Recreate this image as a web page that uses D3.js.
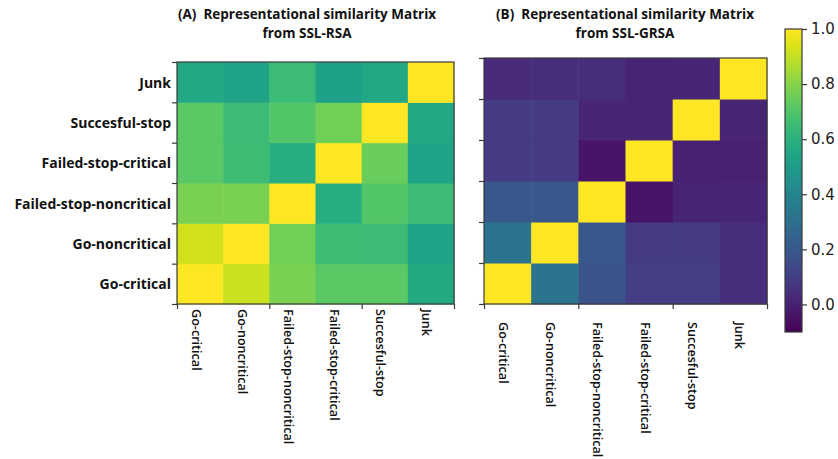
<!DOCTYPE html>
<html>
<head>
<meta charset="utf-8">
<script src="https://cdn.jsdelivr.net/npm/d3@7"></script>
<style>
  html, body { margin: 0; padding: 0; background: #fff; }
  svg { display: block; }
</style>
</head>
<body>
<svg id="chart" width="838" height="459"></svg>
<script>
// Condition labels (same order on both axes; first category sits at the bottom-left)
const categories = ["Go-critical", "Go-noncritical", "Failed-stop-noncritical",
                    "Failed-stop-critical", "Succesful-stop", "Junk"];

// Similarity matrix from SSL-RSA (row = category, column = category)
const rsaGoCritical        = [1.00, 0.91, 0.78, 0.72, 0.72, 0.57];
const rsaGoNoncritical     = [0.92, 1.00, 0.76, 0.66, 0.65, 0.54];
const rsaFailedNoncritical = [0.78, 0.78, 1.00, 0.58, 0.70, 0.65];
const rsaFailedCritical    = [0.72, 0.66, 0.58, 1.00, 0.75, 0.54];
const rsaSuccessfulStop    = [0.72, 0.65, 0.70, 0.76, 1.00, 0.56];
const rsaJunk              = [0.56, 0.54, 0.65, 0.53, 0.56, 1.00];

// Similarity matrix from SSL-GRSA
const grsaGoCritical        = [1.00, 0.32, 0.18, 0.10, 0.10, 0.04];
const grsaGoNoncritical     = [0.32, 1.00, 0.20, 0.09, 0.09, 0.04];
const grsaFailedNoncritical = [0.20, 0.20, 1.00, -0.04, 0.01, 0.02];
const grsaFailedCritical    = [0.09, 0.09, -0.04, 1.00, 0.00, 0.00];
const grsaSuccessfulStop    = [0.09, 0.09, 0.02, 0.01, 1.00, 0.01];
const grsaJunk              = [0.03, 0.04, 0.04, 0.01, 0.02, 1.00];

// Colour bar range and ticks
const colorDomain = [-0.1, 1.0];
const colorTicks = [0.0, 0.2, 0.4, 0.6, 0.8, 1.0];

const rsaMatrix = [rsaGoCritical, rsaGoNoncritical, rsaFailedNoncritical,
                   rsaFailedCritical, rsaSuccessfulStop, rsaJunk];
const grsaMatrix = [grsaGoCritical, grsaGoNoncritical, grsaFailedNoncritical,
                    grsaFailedCritical, grsaSuccessfulStop, grsaJunk];

const svg = d3.select("#chart");
const color = d3.scaleSequential(d3.interpolateViridis).domain(colorDomain);
const axisColor = "#3a3a3a";
const labelFont = "'Open Sans', sans-serif";

function drawPanel(cfg) {
  const g = svg.append("g");
  const n = categories.length;
  const x = d3.scaleBand().domain(categories).range([cfg.x0, cfg.x1]);
  const y = d3.scaleBand().domain(categories).range([cfg.y1, cfg.y0]);
  // continuous index scales for ticks on cell boundaries
  const xi = d3.scaleLinear().domain([0, n]).range([cfg.x0, cfg.x1]);
  const yi = d3.scaleLinear().domain([0, n]).range([cfg.y1, cfg.y0]);

  const cells = [];
  cfg.matrix.forEach((row, r) => row.forEach((v, c) => {
    cells.push({ row: categories[r], col: categories[c], v });
  }));

  g.selectAll("rect.cell").data(cells).join("rect")
    .attr("class", "cell")
    .attr("x", d => x(d.col))
    .attr("y", d => y(d.row))
    .attr("width", x.bandwidth() + 0.5)
    .attr("height", y.bandwidth() + 0.5)
    .attr("fill", d => color(d.v));

  // frame
  g.append("rect")
    .attr("x", cfg.x0).attr("y", cfg.y0)
    .attr("width", cfg.x1 - cfg.x0).attr("height", cfg.y1 - cfg.y0)
    .attr("fill", "none").attr("stroke", axisColor).attr("stroke-width", 1.2);

  // tick marks
  const yAxis = d3.axisLeft(yi).tickValues(d3.range(0, n + 1)).tickFormat("").tickSize(5).tickSizeOuter(0);
  const xAxis = d3.axisBottom(xi).tickValues([0, 2, 4, 6]).tickFormat("").tickSize(5).tickSizeOuter(0);
  const ya = g.append("g").attr("transform", `translate(${cfg.x0},0)`).call(yAxis);
  const xa = g.append("g").attr("transform", `translate(0,${cfg.y1})`).call(xAxis);
  [ya, xa].forEach(a => {
    a.select(".domain").remove();
    a.selectAll("line").attr("stroke", axisColor).attr("stroke-width", 1.2);
  });

  // row labels
  if (cfg.rowLabels) {
    g.selectAll("text.rowlab").data(categories).join("text")
      .attr("class", "rowlab")
      .attr("x", cfg.x0 - 6)
      .attr("y", d => y(d) + y.bandwidth() / 2)
      .attr("text-anchor", "end")
      .attr("dominant-baseline", "central")
      .attr("font-family", labelFont)
      .attr("font-weight", 700)
      .attr("font-size", 14)
      .attr("fill", "#111")
      .text(d => d);
  }

  // column labels, rotated to read downward
  g.selectAll("text.collab").data(categories).join("text")
    .attr("class", "collab")
    .attr("transform", d => `translate(${x(d) + x.bandwidth() / 2 - 4},${cfg.labelTop}) rotate(90)`)
    .attr("text-anchor", "start")
    .attr("dominant-baseline", "central")
    .attr("font-family", labelFont)
    .attr("font-weight", 600)
    .attr("font-size", 12.6)
    .attr("fill", "#111")
    .text(d => d);

  // two-line title
  const titleStyle = sel => sel
    .attr("x", cfg.titleX)
    .attr("text-anchor", "middle")
    .attr("font-family", labelFont)
    .attr("font-weight", 700)
    .attr("font-size", 13.5)
    .attr("fill", "#111");
  g.append("text").call(titleStyle).attr("y", 19).text(cfg.title[0]);
  g.append("text").call(titleStyle).attr("y", 37.5).text(cfg.title[1]);
}

drawPanel({
  matrix: rsaMatrix, x0: 177, x1: 454, y0: 62, y1: 304,
  rowLabels: true, labelTop: 309, titleX: 307,
  title: ["(A)\u00a0\u00a0Representational similarity Matrix", "from SSL-RSA"]
});
drawPanel({
  matrix: grsaMatrix, x0: 484, x1: 767, y0: 58, y1: 304,
  rowLabels: false, labelTop: 322, titleX: 625,
  title: ["(B)\u00a0\u00a0Representational similarity Matrix", "from SSL-GRSA"]
});

// colour bar
const cb = { x: 785, w: 17, y0: 29, y1: 332 };
const cy = d3.scaleLinear().domain(colorDomain).range([cb.y1, cb.y0]);
const defs = svg.append("defs");
const grad = defs.append("linearGradient").attr("id", "cbgrad")
  .attr("x1", 0).attr("y1", 1).attr("x2", 0).attr("y2", 0);
d3.range(0, 1.0001, 0.05).forEach(t => {
  grad.append("stop").attr("offset", t)
    .attr("stop-color", color(colorDomain[0] + t * (colorDomain[1] - colorDomain[0])));
});
svg.append("rect")
  .attr("x", cb.x).attr("y", cb.y0).attr("width", cb.w).attr("height", cb.y1 - cb.y0)
  .attr("fill", "url(#cbgrad)").attr("stroke", axisColor).attr("stroke-width", 1.2);
const cAxis = svg.append("g").attr("transform", `translate(${cb.x + cb.w},0)`)
  .call(d3.axisRight(cy).tickValues(colorTicks).tickFormat(d3.format(".1f")).tickSize(5).tickPadding(4));
cAxis.select(".domain").remove();
cAxis.selectAll("line").attr("stroke", axisColor).attr("stroke-width", 1.2);
cAxis.selectAll("text")
  .attr("font-family", "'DejaVu Sans', sans-serif")
  .attr("font-size", 15)
  .attr("fill", "#222");
</script>
</body>
</html>
